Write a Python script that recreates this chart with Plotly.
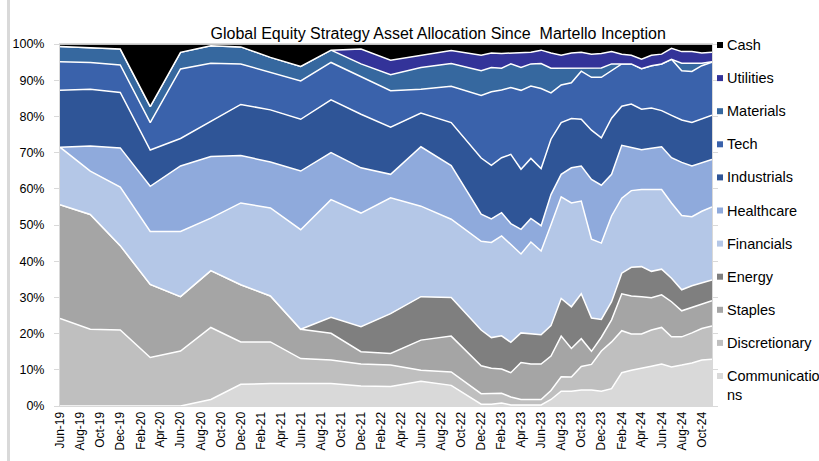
import plotly.graph_objects as go

dates = ["2019-06-01", "2019-09-01", "2019-12-01", "2020-03-01", "2020-06-01", "2020-09-01",
         "2020-12-01", "2021-03-01", "2021-06-01", "2021-09-01", "2021-12-01", "2022-03-01",
         "2022-06-01", "2022-09-01", "2022-12-01",
         "2023-01-01", "2023-02-01", "2023-03-01", "2023-04-01", "2023-05-01", "2023-06-01",
         "2023-07-01", "2023-08-01", "2023-09-01", "2023-10-01", "2023-11-01", "2023-12-01",
         "2024-01-01", "2024-02-01", "2024-03-01", "2024-04-01", "2024-05-01", "2024-06-01",
         "2024-07-01", "2024-08-01", "2024-09-01", "2024-10-01", "2024-11-01"]

communications = [0, 0, 0, 0, 0, 1.8, 6.0, 6.2, 6.2, 6.2, 5.5, 5.4, 6.8, 5.7, 0.5,
                  0.5, 0.8, 0.3, 0.3, 0.3, 0.3, 1.8, 4.1, 4.1, 4.4, 4.4, 4.1, 4.8, 9.2, 9.9,
                  10.4, 11.0, 11.6, 10.8, 11.3, 11.9, 12.7, 12.9]
discretionary = [24.2, 21.2, 21.0, 13.4, 15.2, 19.9, 11.7, 11.5, 6.9, 6.5, 6.1, 5.9, 3.1, 3.7, 2.9,
                 2.9, 2.7, 2.2, 1.5, 1.5, 1.5, 2.5, 4.0, 3.9, 6.5, 7.1, 11.1, 12.9, 11.6, 10.0,
                 9.5, 10.0, 10.1, 8.3, 7.8, 8.3, 8.7, 9.2]
staples = [31.4, 31.7, 23.3, 20.2, 15.0, 15.7, 15.8, 12.7, 8.1, 7.4, 3.4, 3.2, 8.3, 9.9, 7.7,
           7.0, 6.7, 6.7, 10.2, 9.8, 9.8, 9.5, 11.2, 7.9, 7.7, 3.6, 3.8, 6.1, 10.2, 10.5,
           10.3, 8.9, 9.0, 9.7, 7.2, 7.1, 6.8, 7.0]
energy = [0, 0, 0, 0, 0, 0, 0, 0, 0, 4.4, 6.9, 11.0, 12.0, 10.7, 9.9,
          8.5, 9.2, 8.4, 8.2, 8.3, 8.1, 8.4, 10.4, 11.5, 12.4, 9.2, 4.9, 5.0, 5.7, 7.9,
          8.3, 7.3, 7.1, 6.5, 5.8, 5.9, 5.7, 5.7]
financials = [15.9, 12.0, 16.2, 14.6, 18.0, 14.5, 22.6, 24.3, 27.5, 32.5, 31.4, 32.0, 25.0, 21.6, 24.5,
              26.3, 27.6, 26.9, 21.8, 25.4, 23.1, 27.9, 28.1, 28.7, 25.6, 21.8, 21.1, 23.7, 20.7, 21.2,
              21.3, 22.6, 22.0, 20.8, 20.5, 19.1, 19.9, 20.2]
healthcare = [0, 6.9, 10.8, 12.5, 18.1, 17.0, 13.1, 12.7, 16.2, 13.0, 12.5, 6.5, 16.4, 14.8, 7.5,
              6.5, 6.4, 5.9, 6.8, 6.5, 7.0, 8.3, 6.2, 9.7, 9.7, 16.5, 16.0, 11.5, 14.6, 11.9,
              11.0, 11.4, 11.8, 12.5, 14.7, 14.0, 13.3, 13.1]
industrials = [15.7, 15.7, 15.3, 10.0, 7.6, 9.8, 14.1, 14.4, 14.3, 14.6, 14.8, 13.0, 9.3, 11.9, 15.5,
               14.8, 15.2, 19.1, 16.6, 16.6, 15.8, 15.3, 14.3, 13.6, 12.9, 13.6, 13.1, 15.5, 10.8, 12.0,
               11.2, 11.1, 10.0, 11.7, 11.7, 12.0, 12.1, 12.2]
tech = [7.9, 7.4, 7.6, 7.6, 19.2, 16.0, 11.2, 10.3, 10.6, 10.3, 10.4, 10.1, 6.6, 10.0, 17.3,
        20.3, 18.7, 18.5, 21.8, 20.0, 22.1, 12.8, 10.4, 9.9, 13.3, 14.6, 16.7, 13.1, 11.7, 11.1,
        11.2, 11.7, 12.9, 15.5, 13.6, 14.1, 14.8, 14.7]
materials = [4.2, 4.0, 4.4, 4.4, 4.6, 4.8, 4.7, 4.2, 4.0, 3.4, 3.5, 4.4, 6.0, 6.3, 6.8,
             6.7, 6.0, 6.5, 6.3, 6.1, 6.9, 6.8, 4.6, 4.2, 1.0, 2.7, 2.6, 1.9, 0, 0,
             0, 0, 0, 0, 2.1, 2.3, 0.7, 0.1]
utilities = [0, 0, 0, 0, 0, 0, 0, 0, 0, 0, 4.1, 4.0, 3.4, 3.6, 4.3,
             4.0, 4.1, 3.0, 4.0, 3.2, 3.7, 4.2, 3.6, 4.0, 4.2, 3.7, 4.0, 3.4, 2.7, 2.4,
             2.6, 2.9, 2.7, 3.0, 3.2, 3.2, 2.8, 2.6]
cash = [0.7, 1.1, 1.4, 17.3, 2.3, 0.5, 0.8, 3.7, 6.2, 1.7, 1.4, 4.5, 3.1, 1.8, 3.1,
        2.5, 2.6, 2.5, 2.5, 2.3, 1.7, 2.5, 3.1, 2.5, 2.3, 2.8, 2.6, 2.1, 2.8, 3.1,
        4.2, 3.1, 2.8, 1.2, 2.1, 2.1, 2.5, 2.3]

series_names = ["Communications", "Discretionary", "Staples", "Energy", "Financials",
                "Healthcare", "Industrials", "Tech", "Materials", "Utilities", "Cash"]
legend_labels = ["Communicatio<br>ns", "Discretionary", "Staples", "Energy", "Financials",
                 "Healthcare", "Industrials", "Tech", "Materials", "Utilities", "Cash"]
series_values = [communications, discretionary, staples, energy, financials,
                 healthcare, industrials, tech, materials, utilities, cash]
colors = ["#D9D9D9", "#BFBFBF", "#A5A5A5", "#7F7F7F", "#B4C7E7",
          "#8FAADC", "#2F5597", "#3A62AB", "#36689F", "#333399", "#000000"]

W, H = 819, 461
ML, MR, MT, MB = 60, 107, 44, 55
PW, PH = W - ML - MR, H - MT - MB


def px_x(px):
    return (px - ML) / PW


def px_y(py):
    return (H - MB - py) / PH


fig = go.Figure()
for name, vals, col in zip(series_names, series_values, colors):
    fig.add_trace(go.Scatter(
        x=dates, y=vals, name=name, mode="lines", stackgroup="one", groupnorm="percent",
        line=dict(color="white", width=1.5), fillcolor=col, showlegend=False,
        hovertemplate="%{x|%b-%y}: %{y:.1f}%<extra>" + name + "</extra>"))

# legend drawn as small squares + text labels (Cash at top)
shapes = [dict(type="line", xref="paper", yref="paper",
               x0=px_x(8.5), x1=px_x(8.5), y0=px_y(H), y1=px_y(0),
               line=dict(color="#D9D9D9", width=3))]
annotations = []
n = len(series_names)
for k in range(n):
    i = n - 1 - k
    yc = 45 + 33.1 * k
    shapes.append(dict(type="rect", xref="paper", yref="paper",
                       x0=px_x(717), x1=px_x(723), y0=px_y(yc + 3), y1=px_y(yc - 3),
                       fillcolor=colors[i], line=dict(width=0)))
    if "<br>" in legend_labels[i]:
        annotations.append(dict(xref="paper", yref="paper", x=px_x(725), y=px_y(yc - 10),
                                xanchor="left", yanchor="top", align="left",
                                text=legend_labels[i], showarrow=False,
                                font=dict(size=14.5, color="#000000")))
    else:
        annotations.append(dict(xref="paper", yref="paper", x=px_x(725), y=px_y(yc),
                                xanchor="left", yanchor="middle", align="left",
                                text=legend_labels[i], showarrow=False,
                                font=dict(size=14.5, color="#000000")))

axis_col = "#D9D9D9"
fig.update_layout(
    width=W, height=H,
    margin=dict(l=ML, r=MR, t=MT, b=MB, autoexpand=False),
    paper_bgcolor="white", plot_bgcolor="white",
    showlegend=False,
    font=dict(family="Arial, Liberation Sans, sans-serif", color="#262626"),
    title=dict(text="Global Equity Strategy Asset Allocation Since  Martello Inception",
               x=0.535, xanchor="center", y=1 - 33 / H, yanchor="middle",
               font=dict(size=16, color="#000000")),
    xaxis=dict(type="date", range=["2019-06-01", "2024-11-01"],
               tick0="2019-06-01", dtick="M2", tickformat="%b-%y", tickangle=-90,
               showgrid=False, showline=True, linecolor=axis_col, linewidth=1,
               mirror=True, ticks="", tickfont=dict(size=12, color="#000000")),
    yaxis=dict(range=[0, 100], tick0=0, dtick=10, ticksuffix="%", showgrid=False,
               showline=True, linecolor=axis_col, linewidth=1, mirror="ticks",
               ticks="outside", ticklen=5, tickcolor=axis_col, ticklabelstandoff=7,
               tickfont=dict(size=12.5, color="#000000"), zeroline=False),
    shapes=shapes,
    annotations=annotations,
    hovermode="closest",
)

fig.write_html("out.html", config={"displayModeBar": False},
               post_script="document.body.style.margin='0px';")
